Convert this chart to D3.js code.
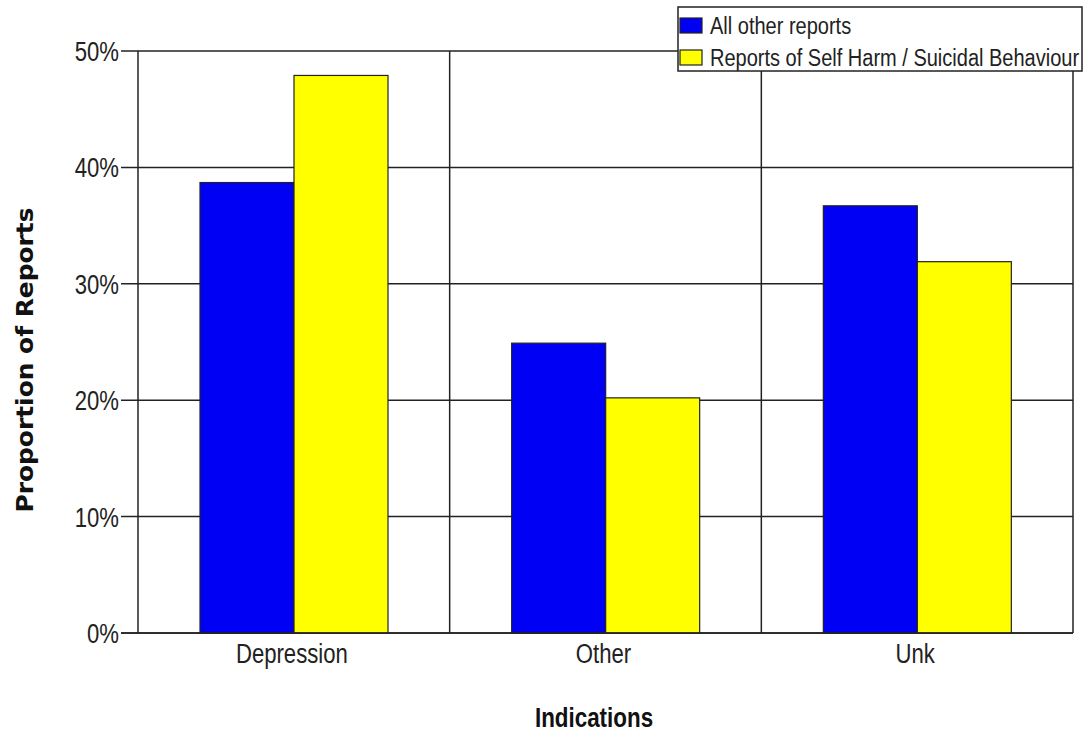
<!DOCTYPE html>
<html>
<head>
<meta charset="utf-8">
<script src="https://cdn.jsdelivr.net/npm/d3@7"></script>
<style>
  html, body { margin: 0; padding: 0; background: #fff; }
  svg { display: block; }
</style>
</head>
<body>
<svg id="chart" width="1083" height="734"></svg>
<script>
// ---- data ----
const categories = ["Depression", "Other", "Unk"];
const seriesNames = ["All other reports", "Reports of Self Harm / Suicidal Behaviour"];
const allOtherReports = [38.7, 24.9, 36.7];
const selfHarmReports = [47.9, 20.2, 31.9];
const yTickValues = [0, 10, 20, 30, 40, 50];
const yTickLabels = ["0%", "10%", "20%", "30%", "40%", "50%"];
const seriesColors = ["#0000F5", "#FFFF00"];
const xAxisTitle = "Indications";
const yAxisTitle = "Proportion of Reports";

// ---- layout ----
const svg = d3.select("#chart");
const plotLeft = 138, plotRight = 1073, plotTop = 51, plotBottom = 633;
const sx = 0.79; // horizontal squeeze of the original bitmap font

const x = d3.scaleBand().domain(categories).range([plotLeft, plotRight]).padding(0);
const x1 = d3.scaleBand().domain(seriesNames).range([62, 250]).padding(0);
const y = d3.scaleLinear().domain([0, 50]).range([plotBottom, plotTop]);

const rows = categories.map((c, i) => ({
  cat: c,
  vals: [allOtherReports[i], selfHarmReports[i]]
}));

const lineCol = "#222";

// horizontal gridlines + ticks
const grid = svg.append("g");
grid.selectAll("line.h").data(yTickValues).join("line")
  .attr("x1", plotLeft - 17).attr("x2", plotRight)
  .attr("y1", d => y(d)).attr("y2", d => y(d))
  .attr("stroke", lineCol).attr("stroke-width", 1.5);

// vertical lines: left axis, band dividers, right border
const vx = [plotLeft].concat(categories.map(c => x(c) + x.bandwidth()));
grid.selectAll("line.v").data(vx).join("line")
  .attr("x1", d => d).attr("x2", d => d)
  .attr("y1", y(50)).attr("y2", y(0))
  .attr("stroke", lineCol).attr("stroke-width", 1.5);

// bars
const groups = svg.append("g").selectAll("g").data(rows).join("g")
  .attr("transform", d => `translate(${x(d.cat)},0)`);
groups.selectAll("rect").data(d => d.vals.map((v, j) => ({ s: seriesNames[j], v, j })))
  .join("rect")
  .attr("x", d => x1(d.s))
  .attr("width", x1.bandwidth())
  .attr("y", d => y(d.v))
  .attr("height", d => y(0) - y(d.v))
  .attr("fill", d => seriesColors[d.j])
  .attr("stroke", "#222").attr("stroke-width", 1.2);

// redraw baseline on top
svg.append("line").attr("x1", plotLeft - 17).attr("x2", plotRight)
  .attr("y1", y(0)).attr("y2", y(0)).attr("stroke", lineCol).attr("stroke-width", 1.5);

const fontTxt = "'Liberation Sans', Arial, sans-serif";

// y tick labels
svg.append("g").selectAll("g").data(yTickValues).join("g")
  .attr("transform", d => `translate(119,${y(d)}) scale(${sx},1)`)
  .append("text")
  .attr("text-anchor", "end").attr("dy", "0.36em")
  .attr("font-family", fontTxt).attr("font-size", 28).attr("fill", "#222")
  .text((d, i) => yTickLabels[i]);

// x labels
svg.append("g").selectAll("g").data(categories).join("g")
  .attr("transform", d => `translate(${x(d) + x.bandwidth() / 2 - 2},663) scale(${sx},1)`)
  .append("text")
  .attr("text-anchor", "middle")
  .attr("font-family", fontTxt).attr("font-size", 28).attr("fill", "#222")
  .text(d => d);

// x axis title
svg.append("g").attr("transform", `translate(594,727) scale(0.8,1)`)
  .append("text").attr("text-anchor", "middle")
  .attr("font-family", fontTxt).attr("font-weight", "bold").attr("font-size", 28)
  .attr("fill", "#111").text(xAxisTitle);

// y axis title
svg.append("text")
  .attr("transform", "translate(33,360) rotate(-90)")
  .attr("text-anchor", "middle")
  .attr("font-family", "'DejaVu Sans', Verdana, sans-serif").attr("font-weight", "bold")
  .attr("font-size", 23).attr("fill", "#111")
  .attr("textLength", 305).attr("lengthAdjust", "spacingAndGlyphs")
  .text(yAxisTitle);

// legend
const lg = svg.append("g");
lg.append("rect").attr("x", 678).attr("y", 7).attr("width", 404).attr("height", 64)
  .attr("fill", "#fff").attr("stroke", "#222").attr("stroke-width", 1.5);
const legY = d3.scaleBand().domain(seriesNames).range([7, 71]).padding(0);
const li = lg.selectAll("g.item").data(seriesNames).join("g");
li.append("rect")
  .attr("x", 680).attr("y", d => legY(d) + 11)
  .attr("width", 22).attr("height", 15)
  .attr("fill", (d, i) => seriesColors[i]).attr("stroke", "#222").attr("stroke-width", 1.2);
li.append("g")
  .attr("transform", d => `translate(710,${legY(d) + 27}) scale(0.87,1)`)
  .append("text")
  .attr("font-family", fontTxt).attr("font-size", 23).attr("fill", "#222")
  .text(d => d);
</script>
</body>
</html>
